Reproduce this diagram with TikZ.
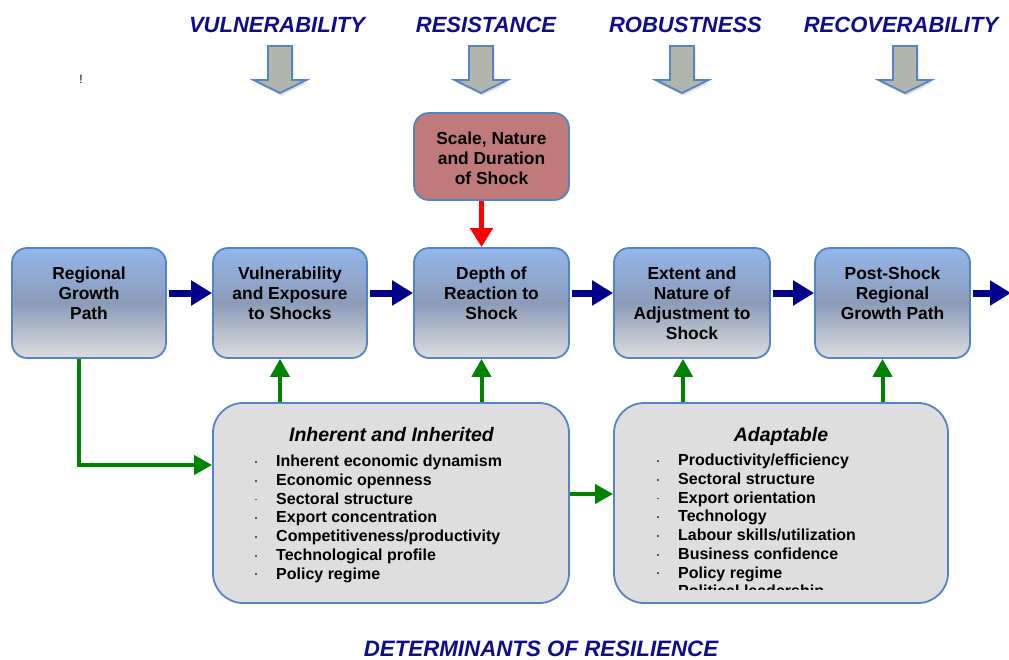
\documentclass[tikz,border=0pt]{standalone}
\usepackage{fontspec}
\setmainfont{Liberation Sans}
\usetikzlibrary{arrows.meta,shadows,calc}
\definecolor{navy}{RGB}{14,14,140}
\definecolor{bordblue}{RGB}{84,132,196}
\definecolor{boxtop}{RGB}{146,182,234}
\definecolor{boxmid}{RGB}{140,156,184}
\definecolor{boxbot}{RGB}{220,220,222}
\definecolor{shockred}{RGB}{192,122,122}
\definecolor{panelgray}{RGB}{222,222,222}
\definecolor{gargray}{RGB}{178,181,172}
\definecolor{dgreen}{RGB}{0,132,0}
\definecolor{arrowblue}{RGB}{0,0,140}
\newcommand\bul{\llap{\textcolor{black!65}{\rule[3.8pt]{1.8pt}{1.8pt}}\hspace{19pt}}}
\newcommand\gdownarrow[2]{%
  \fill[gargray,draw=bordblue,line width=1.8pt,line join=miter,
        drop shadow={opacity=0.25,shadow xshift=1.5pt,shadow yshift=-2.5pt}]
   ({#1-12},46) -- ({#1+12},46) -- ({#1+12},80) -- ({#1+26.5},80) --
   (#1,93) -- ({#1-26.5},80) -- ({#1-12},80) -- cycle;
  \coordinate (#2) at (#1,70);}
\begin{document}
\begin{tikzpicture}[x=1pt,y=-1pt,
  stagebox/.style={draw=bordblue,line width=1.8pt,rounded corners=15pt,
    minimum width=#1,minimum height=110pt,inner sep=0pt,
    top color=boxtop,bottom color=boxbot,middle color=boxmid},
  shockbox/.style={draw=bordblue,line width=1.8pt,rounded corners=15pt,
    minimum width=155pt,minimum height=87pt,inner sep=0pt,fill=shockred},
  panel/.style={draw=bordblue,line width=1.8pt,rounded corners=30pt,
    minimum width=#1,minimum height=200pt,inner sep=0pt,fill=panelgray},
  boxtext/.style={font=\fontsize{17.4}{20}\selectfont\bfseries,align=center,
    anchor=north,inner sep=0pt},
  listtext/.style={font=\fontsize{16}{18.7}\selectfont\bfseries,align=left,
    anchor=north west,inner sep=0pt},
  paneltitle/.style={font=\fontsize{19.5}{22}\selectfont\bfseries\itshape,
    anchor=north,inner sep=0pt},
  ttl/.style={font=\fontsize{22}{26}\selectfont\bfseries\itshape,text=navy,
    anchor=base,inner sep=0pt},
  bluearr/.style={arrowblue,line width=7pt,-{Triangle[length=21pt,width=24pt]}},
  greenarr/.style={dgreen,line width=4pt,line join=miter,
    -{Triangle[length=18pt,width=19pt]}},
  redarr/.style={red,line width=5pt,-{Triangle[length=19pt,width=22pt]}}
]
\useasboundingbox (0,0) rectangle (1009,659);
\fill[white] (0,0) rectangle (1009,659);

% titles
\node[ttl] (tvul) at (277,32) {VULNERABILITY};
\node[ttl] (tres) at (486,32) {RESISTANCE};
\node[ttl] (trob) at (685.5,32) {ROBUSTNESS};
\node[ttl] (trec) at (901,32) {RECOVERABILITY};
\node[font=\fontsize{12}{14}\selectfont,anchor=base,inner sep=0pt] (excl) at (81,83) {!};

% gray block arrows
\gdownarrow{280}{g1}
\gdownarrow{481}{g2}
\gdownarrow{682}{g3}
\gdownarrow{905}{g4}

% stage boxes
\node[stagebox=154pt] (rgp)  at (89,303) {};
\node[stagebox=154pt] (vul)  at (290,303) {};
\node[stagebox=155pt] (dep)  at (491.5,303) {};
\node[stagebox=156pt] (ext)  at (692,303) {};
\node[stagebox=155pt] (post) at (892.5,303) {};
\node[shockbox] (shock) at (491.5,156.5) {};

\node[boxtext] (rgpt)  at (89,266.5)   {Regional\\Growth\\Path};
\node[boxtext] (vult)  at (290,266.5)  {Vulnerability\\and Exposure\\to Shocks};
\node[boxtext] (dept)  at (491.5,266.5){Depth of\\Reaction to\\Shock};
\node[boxtext] (extt)  at (692,266.5)  {Extent and\\Nature of\\Adjustment to\\Shock};
\node[boxtext] (postt) at (892.5,266.5){Post-Shock\\Regional\\Growth Path};
\node[boxtext] (shockt) at (491.5,132) {Scale, Nature\\and Duration\\of Shock};

% panels
\node[panel=356pt] (inh) at (391,503) {};
\node[panel=334pt] (ada) at (781,503) {};
\node[paneltitle] (inht) at (391.5,427) {Inherent and Inherited};
\node[paneltitle] (adat) at (781,427) {Adaptable};
\node[listtext] (inhl) at (276,455) {\bul Inherent economic dynamism\\
  \bul Economic openness\\ \bul Sectoral structure\\ \bul Export concentration\\
  \bul Competitiveness/productivity\\ \bul Technological profile\\ \bul Policy regime};
\begin{scope}
  \clip (620,440) rectangle (940,589);
  \node[listtext] (adal) at (678,454) {\bul Productivity/efficiency\\
    \bul Sectoral structure\\ \bul Export orientation\\ \bul Technology\\
    \bul Labour skills/utilization\\ \bul Business confidence\\ \bul Policy regime\\
    \bul Political leadership};
\end{scope}

% blue flow arrows
\coordinate (endpt) at (1011,293);
\draw[bluearr] ([xshift=2pt,yshift=10pt]rgp.east) -- ([yshift=10pt]vul.west);
\draw[bluearr] ([xshift=2pt,yshift=10pt]vul.east) -- ([yshift=10pt]dep.west);
\draw[bluearr] ([xshift=2pt,yshift=10pt]dep.east) -- ([yshift=10pt]ext.west);
\draw[bluearr] ([xshift=2pt,yshift=10pt]ext.east) -- ([yshift=10pt]post.west);
\draw[bluearr] ([xshift=2pt,yshift=10pt]post.east) -- (endpt);

% red arrow
\draw[redarr] ([xshift=-10pt]shock.south) -- ([xshift=-10pt]dep.north);

% green arrows
\draw[greenarr] ([xshift=-10pt]vul.south |- inh.north) -- ([xshift=-10pt]vul.south);
\draw[greenarr] ([xshift=-10pt]dep.south |- inh.north) -- ([xshift=-10pt]dep.south);
\draw[greenarr] ([xshift=-9pt]ext.south |- ada.north) -- ([xshift=-9pt]ext.south);
\draw[greenarr] ([xshift=-10pt]post.south |- ada.north) -- ([xshift=-10pt]post.south);
\draw[greenarr] ([xshift=-10pt]rgp.south) |- ([yshift=38pt]inh.west);
\draw[greenarr] ([yshift=9pt]inh.east) -- ([yshift=9pt]ada.west);

% footer
\node[ttl,font=\fontsize{22.3}{26}\selectfont\bfseries\itshape] (foot) at (541,656) {DETERMINANTS OF RESILIENCE};
\end{tikzpicture}
\end{document}
